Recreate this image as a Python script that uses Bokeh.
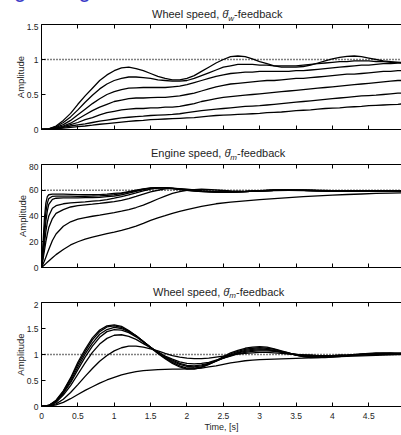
from bokeh.plotting import figure
from bokeh.layouts import column
from bokeh.models import Range1d, LinearAxis, FixedTicker, CustomJSTickFormatter, Span, Div
from bokeh.embed import file_html
from bokeh.resources import INLINE

FONT = "Liberation Sans"
TXT = "#1e1e1e"

# ---------------- data ----------------
T = [0.0, 0.1, 0.2, 0.3, 0.4, 0.5, 0.6, 0.7, 0.8, 0.9, 1.0,
     1.1, 1.2, 1.3, 1.4, 1.5, 1.6, 1.7, 1.8, 1.9, 2.0,
     2.1, 2.2, 2.3, 2.4, 2.5, 2.6, 2.7, 2.8, 2.9, 3.0,
     3.1, 3.2, 3.3, 3.4, 3.5, 3.6, 3.7, 3.8, 3.9, 4.0,
     4.1, 4.2, 4.3, 4.4, 4.5, 4.6, 4.7, 4.8, 4.9, 5.0]

TM = [0.0, 0.02, 0.04, 0.06, 0.08, 0.1, 0.15, 0.2,
      0.3, 0.4, 0.5, 0.6, 0.7, 0.8, 0.9, 1.0, 1.1, 1.2, 1.3, 1.4, 1.5, 1.6, 1.7, 1.8, 1.9, 2.0,
      2.2, 2.4, 2.6, 2.8, 3.0, 3.2, 3.4, 3.6, 3.8, 4.0, 4.2, 4.4, 4.6, 4.8, 5.0]

# Wheel speed, theta_w feedback
W1 = [0, 0.01, 0.05, 0.13, 0.23, 0.36, 0.48, 0.59, 0.70, 0.78, 0.84,
      0.88, 0.89, 0.87, 0.84, 0.80, 0.76, 0.73, 0.71, 0.71, 0.73,
      0.77, 0.83, 0.89, 0.95, 1.00, 1.04, 1.05, 1.04, 1.01, 0.97,
      0.94, 0.91, 0.89, 0.89, 0.89, 0.90, 0.92, 0.95, 0.98, 1.01,
      1.03, 1.045, 1.05, 1.04, 1.02, 1.00, 0.98, 0.97, 0.96, 0.95]
W2 = [0, 0.01, 0.04, 0.10, 0.18, 0.28, 0.39, 0.49, 0.58, 0.65, 0.70,
      0.73, 0.75, 0.75, 0.74, 0.73, 0.71, 0.70, 0.69, 0.69, 0.70,
      0.73, 0.77, 0.81, 0.85, 0.89, 0.91, 0.93, 0.93, 0.93, 0.92,
      0.92, 0.91, 0.91, 0.91, 0.91, 0.92, 0.93, 0.94, 0.95, 0.96,
      0.97, 0.97, 0.98, 0.98, 0.98, 0.97, 0.97, 0.96, 0.96, 0.96]
W3 = [0, 0.01, 0.03, 0.07, 0.13, 0.21, 0.29, 0.37, 0.44, 0.50, 0.54,
      0.57, 0.59, 0.595, 0.60, 0.60, 0.60, 0.60, 0.61, 0.62, 0.64,
      0.67, 0.70, 0.73, 0.76, 0.78, 0.80, 0.81, 0.82, 0.82, 0.83,
      0.83, 0.83, 0.83, 0.83, 0.84, 0.84, 0.85, 0.86, 0.87, 0.88,
      0.89, 0.90, 0.91, 0.92, 0.92, 0.93, 0.94, 0.94, 0.95, 0.95]
W4 = [0, 0.005, 0.02, 0.05, 0.09, 0.15, 0.21, 0.27, 0.32, 0.36, 0.40,
      0.42, 0.44, 0.45, 0.45, 0.455, 0.46, 0.46, 0.47, 0.48, 0.50,
      0.52, 0.55, 0.58, 0.61, 0.63, 0.65, 0.66, 0.67, 0.68, 0.69,
      0.70, 0.70, 0.71, 0.72, 0.73, 0.73, 0.74, 0.75, 0.76, 0.77,
      0.78, 0.79, 0.79, 0.80, 0.81, 0.82, 0.83, 0.83, 0.84, 0.84]
W5 = [0, 0.005, 0.015, 0.04, 0.07, 0.10, 0.14, 0.17, 0.21, 0.24, 0.26,
      0.28, 0.29, 0.30, 0.30, 0.31, 0.31, 0.32, 0.32, 0.33, 0.35,
      0.37, 0.40, 0.42, 0.44, 0.46, 0.47, 0.48, 0.49, 0.50, 0.51,
      0.52, 0.53, 0.54, 0.55, 0.56, 0.57, 0.58, 0.59, 0.60, 0.61,
      0.62, 0.63, 0.64, 0.65, 0.66, 0.67, 0.68, 0.69, 0.70, 0.70]
W6 = [0, 0.003, 0.01, 0.03, 0.05, 0.065, 0.08, 0.10, 0.12, 0.135, 0.15,
      0.165, 0.175, 0.185, 0.19, 0.20, 0.205, 0.21, 0.215, 0.225, 0.24,
      0.255, 0.27, 0.28, 0.29, 0.30, 0.31, 0.32, 0.33, 0.335, 0.34,
      0.35, 0.36, 0.37, 0.38, 0.39, 0.40, 0.41, 0.42, 0.43, 0.44,
      0.45, 0.46, 0.47, 0.48, 0.485, 0.49, 0.50, 0.51, 0.52, 0.52]
W7 = [0, 0.002, 0.008, 0.02, 0.03, 0.04, 0.05, 0.062, 0.075, 0.085, 0.095,
      0.105, 0.115, 0.125, 0.13, 0.14, 0.145, 0.15, 0.155, 0.16, 0.165,
      0.17, 0.18, 0.19, 0.20, 0.205, 0.21, 0.215, 0.22, 0.225, 0.23,
      0.24, 0.245, 0.25, 0.26, 0.27, 0.275, 0.28, 0.29, 0.30, 0.305,
      0.31, 0.32, 0.325, 0.33, 0.34, 0.345, 0.35, 0.355, 0.36, 0.37]

# Engine speed, theta_m feedback
E1 = [0, 18, 38, 50, 55, 56.5, 57, 57,
      57, 56.8, 56.6, 56.5, 56.5, 56.6, 57, 57.5, 58, 59, 60, 61, 61.8, 62, 61.8, 61.2, 60.5, 60,
      59, 58.6, 58.6, 59, 59.6, 60, 60, 59.8, 59.6, 59.4, 59.4, 59.5, 59.6, 59.6, 59.6]
E2 = [0, 13, 30, 43, 50, 53.5, 55.3, 55.5,
      55.5, 55.4, 55.3, 55.3, 55.4, 55.6, 56, 56.5, 57.5, 58.5, 59.7, 60.8, 61.6, 62, 61.9, 61.4, 60.7, 60,
      59.1, 58.6, 58.5, 58.9, 59.5, 60, 60.1, 59.9, 59.6, 59.4, 59.4, 59.5, 59.6, 59.6, 59.6]
E3 = [0, 10, 24, 36, 44, 49, 53, 53.8,
      54, 54.1, 54.1, 54.2, 54.3, 54.5, 55, 55.5, 56.5, 57.8, 59.2, 60.5, 61.5, 62, 62, 61.5, 60.8, 60.1,
      59.2, 58.7, 58.5, 58.9, 59.5, 60, 60.2, 60, 59.7, 59.5, 59.4, 59.5, 59.6, 59.6, 59.6]
E4 = [0, 8, 18, 28, 35, 40, 46, 48,
      49.5, 50.2, 50.6, 51, 51.5, 52, 52.8, 53.8, 55, 56.5, 58, 59.6, 60.8, 61.7, 62, 61.7, 61.1, 60.4,
      59.3, 58.7, 58.5, 58.9, 59.5, 60, 60.2, 60, 59.7, 59.5, 59.4, 59.5, 59.6, 59.6, 59.6]
E5 = [0, 6, 13, 20, 26, 31, 38, 42,
      45, 47, 48, 48.7, 49.2, 49.8, 50.5, 51.2, 52.2, 53.5, 55.2, 57, 58.7, 60, 61, 61.5, 61.3, 60.8,
      59.7, 59, 58.8, 59.1, 59.6, 60, 60.1, 60, 59.8, 59.6, 59.5, 59.5, 59.6, 59.6, 59.6]
E6 = [0, 2.5, 5, 8, 11, 14, 21, 26,
      32, 35.5, 37.5, 38.8, 39.8, 40.7, 41.7, 42.7, 43.8, 45, 46.6, 48.5, 50.8, 53.2, 55.5, 57.5, 59, 60,
      60.8, 60.2, 59.4, 59.2, 59.4, 59.8, 60, 60, 59.8, 59.6, 59.5, 59.5, 59.6, 59.6, 59.6]
E7 = [0, 1, 2, 3, 4, 5, 7.5, 10,
      14, 17.5, 20, 22, 23.5, 25, 26.3, 27.5, 28.8, 30.3, 32.2, 34.3, 36.6, 38.5, 40.2, 42, 43.5, 45,
      47.5, 49.5, 50.8, 51.8, 52.7, 53.5, 54.3, 55, 55.7, 56.2, 56.7, 57.1, 57.5, 57.8, 58]

# Wheel speed, theta_m feedback
B1 = [0, 0.02, 0.12, 0.30, 0.55, 0.85, 1.10, 1.32, 1.47, 1.55, 1.57,
      1.54, 1.46, 1.36, 1.25, 1.13, 1.02, 0.92, 0.83, 0.76, 0.72,
      0.72, 0.75, 0.81, 0.88, 0.96, 1.03, 1.08, 1.12, 1.14, 1.15,
      1.14, 1.11, 1.07, 1.03, 0.99, 0.96, 0.94, 0.94, 0.94, 0.95,
      0.96, 0.98, 1.00, 1.01, 1.02, 1.03, 1.03, 1.03, 1.02, 1.02]
B2 = [0, 0.02, 0.11, 0.29, 0.53, 0.81, 1.06, 1.28, 1.44, 1.53, 1.55,
      1.52, 1.45, 1.36, 1.25, 1.14, 1.03, 0.93, 0.85, 0.78, 0.74,
      0.74, 0.76, 0.81, 0.87, 0.94, 1.01, 1.06, 1.10, 1.12, 1.13,
      1.12, 1.10, 1.06, 1.03, 0.99, 0.96, 0.95, 0.95, 0.95, 0.96,
      0.97, 0.98, 0.99, 1.00, 1.01, 1.02, 1.02, 1.02, 1.02, 1.02]
B3 = [0, 0.02, 0.10, 0.27, 0.49, 0.76, 1.01, 1.22, 1.39, 1.48, 1.52,
      1.50, 1.44, 1.36, 1.25, 1.14, 1.04, 0.95, 0.87, 0.81, 0.77,
      0.76, 0.78, 0.82, 0.87, 0.93, 0.99, 1.04, 1.08, 1.10, 1.11,
      1.10, 1.08, 1.05, 1.02, 0.99, 0.97, 0.96, 0.96, 0.96, 0.97,
      0.98, 0.98, 0.99, 1.00, 1.01, 1.01, 1.02, 1.02, 1.02, 1.02]
B4 = [0, 0.02, 0.09, 0.25, 0.46, 0.71, 0.95, 1.16, 1.33, 1.44, 1.48,
      1.47, 1.42, 1.34, 1.24, 1.14, 1.04, 0.96, 0.89, 0.83, 0.79,
      0.78, 0.80, 0.83, 0.88, 0.93, 0.98, 1.03, 1.06, 1.08, 1.09,
      1.09, 1.07, 1.05, 1.02, 1.00, 0.98, 0.97, 0.96, 0.96, 0.97,
      0.97, 0.98, 0.99, 1.00, 1.00, 1.01, 1.01, 1.02, 1.02, 1.02]
B5 = [0, 0.015, 0.08, 0.22, 0.40, 0.62, 0.84, 1.04, 1.20, 1.31, 1.37,
      1.38, 1.35, 1.29, 1.21, 1.13, 1.05, 0.97, 0.91, 0.86, 0.83,
      0.82, 0.83, 0.85, 0.89, 0.93, 0.97, 1.01, 1.04, 1.06, 1.07,
      1.07, 1.06, 1.04, 1.02, 1.00, 0.99, 0.98, 0.97, 0.97, 0.97,
      0.98, 0.98, 0.99, 0.99, 1.00, 1.00, 1.01, 1.01, 1.02, 1.02]
B6 = [0, 0.01, 0.05, 0.14, 0.27, 0.42, 0.58, 0.73, 0.87, 0.98, 1.07,
      1.13, 1.16, 1.16, 1.14, 1.11, 1.07, 1.02, 0.98, 0.95, 0.93,
      0.92, 0.92, 0.93, 0.95, 0.97, 0.99, 1.01, 1.02, 1.03, 1.04,
      1.04, 1.03, 1.02, 1.01, 1.00, 0.99, 0.99, 0.98, 0.98, 0.98,
      0.99, 0.99, 0.99, 1.00, 1.00, 1.00, 1.01, 1.01, 1.01, 1.02]
B7 = [0, 0.005, 0.03, 0.08, 0.15, 0.23, 0.31, 0.38, 0.45, 0.51, 0.56,
      0.61, 0.64, 0.67, 0.69, 0.70, 0.71, 0.715, 0.72, 0.72, 0.725,
      0.73, 0.74, 0.76, 0.78, 0.81, 0.84, 0.86, 0.88, 0.89, 0.90,
      0.905, 0.91, 0.915, 0.92, 0.925, 0.93, 0.935, 0.94, 0.95, 0.955,
      0.96, 0.965, 0.97, 0.975, 0.98, 0.985, 0.99, 0.995, 1.00, 1.00]

XTICKS = [0, 0.5, 1, 1.5, 2, 2.5, 3, 3.5, 4, 4.5]
Y1_TICKS = [0, 0.5, 1, 1.5]
Y2_TICKS = [0, 20, 40, 60, 80]
Y3_TICKS = [0, 0.5, 1, 1.5, 2]
REF1, REF2, REF3 = 1.0, 60.0, 1.0
TITLE1 = ("Wheel speed, ", "w", "-feedback")
TITLE2 = ("Engine speed, ", "m", "-feedback")
TITLE3 = ("Wheel speed, ", "m", "-feedback")

X_END = 4.95


def style_axis(ax, ticks, show):
    ax.ticker = FixedTicker(ticks=ticks)
    ax.major_tick_in = 4
    ax.major_tick_out = 0
    ax.minor_tick_line_color = None
    ax.axis_line_color = "black"
    ax.axis_line_width = 1
    ax.major_tick_line_color = "black"
    ax.major_tick_line_width = 1
    ax.major_label_text_font = FONT
    ax.major_label_text_color = TXT
    if show:
        ax.formatter = CustomJSTickFormatter(code="return tick.toString();")
        ax.major_label_text_font_size = "8.5px"
        ax.major_label_standoff = 3
    else:
        ax.formatter = CustomJSTickFormatter(code="return '';")
        ax.major_label_text_font_size = "1px"
        ax.major_label_standoff = 0


def make_fig(height, top, bottom, y_end, yticks, show_x):
    p = figure(width=401, height=height, x_range=Range1d(0, X_END), y_range=Range1d(0, y_end),
               output_backend="svg", toolbar_location=None, tools="",
               min_border_left=41, min_border_right=0, min_border_top=top, min_border_bottom=bottom)
    p.grid.visible = False
    p.outline_line_color = None
    style_axis(p.below[0], XTICKS, show_x)
    style_axis(p.left[0], yticks, True)
    above = LinearAxis()
    style_axis(above, XTICKS, False)
    p.add_layout(above, "above")
    ay = p.left[0]
    ay.axis_label = "Amplitude"
    ay.axis_label_text_font = FONT
    ay.axis_label_text_font_size = "9.5px"
    ay.axis_label_text_font_style = "normal"
    ay.axis_label_text_color = TXT
    ay.axis_label_standoff = -2
    return p


def title_div(parts, height, left, top, extra=""):
    main, sub, tail = parts
    html = (
        f'<div style="position:relative;width:401px;height:{height}px;overflow:hidden;'
        f'font-family:\'{FONT}\';color:{TXT};">'
        f'{extra}'
        f'<span style="position:absolute;left:{left}px;top:{top}px;font-size:11px;'
        f'line-height:11px;white-space:nowrap;">{main}'
        f'<i>\u03b8\u0307</i>'
        f'<i style="font-size:8px;position:relative;top:2.5px;">{sub}</i>'
        f'{tail}</span></div>'
    )
    return Div(text=html, width=401, height=height, margin=(0, 0, 0, 0))


blue = ''.join(
    f'<span style="position:absolute;left:{gx}px;top:-21px;font-size:22px;line-height:22px;'
    f'color:#3c3cc8;">g</span>' for gx in (14, 78.5))

d1 = title_div(TITLE1, 23, 152, 9, blue)
p1 = make_fig(117, 1, 11, 1.5, Y1_TICKS, False)
d2 = title_div(TITLE2, 23, 151, 8)
p2 = make_fig(117, 1, 13, 80, Y2_TICKS, False)
d3 = title_div(TITLE3, 21, 153, 6.5)
p3 = make_fig(134, 1, 29, 2, Y3_TICKS, True)


def add_curves(p, t, series, ref):
    p.add_layout(Span(location=ref, dimension="width", line_color="black",
                      line_width=1.4, line_dash="1 2"))
    for s in series:
        p.line(t, s, line_color="black", line_width=1.3)


add_curves(p1, T, [W1, W2, W3, W4, W5, W6, W7], REF1)
add_curves(p2, TM, [E1, E2, E3, E4, E5, E6, E7], REF2)
add_curves(p3, T, [B1, B2, B3, B4, B5, B6, B7], REF3)

ax3 = p3.below[0]
ax3.major_label_standoff = 6
ax3.axis_label = "Time, [s]"
ax3.axis_label_text_font = FONT
ax3.axis_label_text_font_size = "9px"
ax3.axis_label_text_font_style = "normal"
ax3.axis_label_text_color = TXT
ax3.axis_label_standoff = 0

layout = column(d1, p1, d2, p2, d3, p3, spacing=0)
open("out.html", "w").write(file_html(layout, INLINE))
